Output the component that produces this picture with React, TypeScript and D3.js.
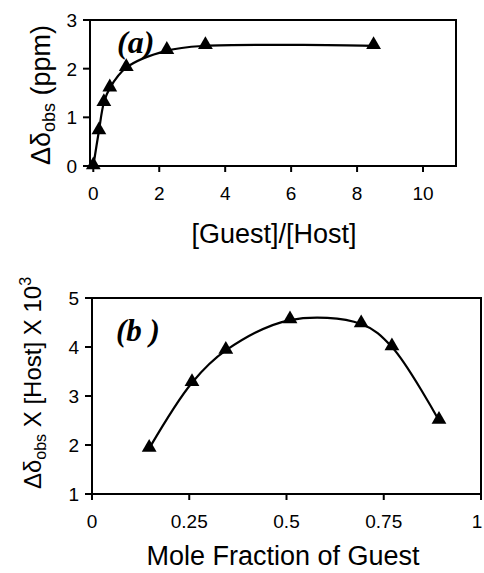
import * as d3 from 'd3';

// (a) titration curve
const ratioA = [0, 0.17, 0.32, 0.5, 1.0, 2.23, 3.4, 8.5];
const shiftA = [0, 0.72, 1.3, 1.6, 2.02, 2.37, 2.47, 2.47];
const xTicksA = [0, 2, 4, 6, 8, 10];
const yTicksA = [0, 1, 2, 3];

// (b) Job plot
const fracB = [0.147, 0.257, 0.344, 0.509, 0.692, 0.771, 0.892];
const jobB = [1.93, 3.27, 3.93, 4.55, 4.47, 4.0, 2.5];
const xTicksB = [0, 0.25, 0.5, 0.75, 1];
const xTickLabelsB = ['0', '0.25', '0.5', '0.75', '1'];
const yTicksB = [1, 2, 3, 4, 5];

const sans = 'Liberation Sans, Arial, sans-serif';
const serif = 'Liberation Serif, Times New Roman, serif';

const tri = d3.symbol(d3.symbolTriangle, 95);

type PanelProps = {
  xs: number[];
  ys: number[];
  x: d3.ScaleLinear<number, number>;
  y: d3.ScaleLinear<number, number>;
  xTicks: number[];
  xLabels: string[];
  yTicks: number[];
};

const Panel = ({ xs, ys, x, y, xTicks, xLabels, yTicks }: PanelProps) => {
  const [x0, x1] = x.range();
  const [y0, y1] = y.range();
  const line = d3
    .line<number>()
    .x((_, i) => x(xs[i]))
    .y((d) => y(d))
    .curve(d3.curveCatmullRom.alpha(0.5));
  return (
    <g>
      <rect x={x0} y={y1} width={x1 - x0} height={y0 - y1} fill="none" stroke="#000" strokeWidth={2} />
      {xTicks.map((t, i) => (
        <g key={'x' + t}>
          <line x1={x(t)} x2={x(t)} y1={y0} y2={y0 + 6} stroke="#000" strokeWidth={2} />
          <text x={Math.min(x(t), 477)} y={y0 + 34} textAnchor="middle" fontSize={19} fontFamily={sans}>
            {xLabels[i]}
          </text>
        </g>
      ))}
      {yTicks.map((t) => (
        <g key={'y' + t}>
          <line x1={x0 - 7} x2={x0} y1={y(t)} y2={y(t)} stroke="#000" strokeWidth={2} />
          <text x={x0 - 13} y={y(t) + 7} textAnchor="end" fontSize={19} fontFamily={sans}>
            {t}
          </text>
        </g>
      ))}
      <path d={line(ys) ?? ''} fill="none" stroke="#000" strokeWidth={2.2} />
      {ys.map((d, i) => (
        <path key={i} d={tri() ?? ''} transform={`translate(${x(xs[i])},${y(d) - 1})`} fill="#000" />
      ))}
    </g>
  );
};

export default function App() {
  const xA = d3.scaleLinear().domain([-0.1, 11]).range([90, 456]);
  const yA = d3.scaleLinear().domain([0, 3]).range([166, 20]);
  const xB = d3.scaleLinear().domain([0, 1]).range([92, 481]);
  const yB = d3.scaleLinear().domain([1, 5]).range([494, 298]);

  return (
    <svg width={484} height={573} style={{ position: 'absolute', left: 0, top: 0, background: '#fff' }}>
      <Panel xs={ratioA} ys={shiftA} x={xA} y={yA} xTicks={xTicksA} xLabels={xTicksA.map(String)} yTicks={yTicksA} />
      <text x={117} y={53} fontSize={32} fontFamily={serif} fontWeight="bold" fontStyle="italic">
        (a)
      </text>
      <text transform="translate(50,95) rotate(-90)" textAnchor="middle" fontSize={27} fontFamily={sans}>
        Δδ<tspan fontSize={18} dy={5}>obs</tspan>
        <tspan dy={-5}> (ppm)</tspan>
      </text>
      <text x={274} y={243} textAnchor="middle" fontSize={27} fontFamily={sans}>
        [Guest]/[Host]
      </text>

      <Panel xs={fracB} ys={jobB} x={xB} y={yB} xTicks={xTicksB} xLabels={xTickLabelsB} yTicks={yTicksB} />
      <text x={116} y={341} fontSize={31} fontFamily={serif} fontWeight="bold" fontStyle="italic">
        (b )
      </text>
      <text transform="translate(41,383) rotate(-90)" textAnchor="middle" fontSize={24} fontFamily={sans}>
        Δδ<tspan fontSize={16} dy={5}>obs</tspan>
        <tspan dy={-5}> X [Host] X 10</tspan>
        <tspan fontSize={16} dy={-10}>3</tspan>
      </text>
      <text x={283} y={565} textAnchor="middle" fontSize={27} fontFamily={sans}>
        Mole Fraction of Guest
      </text>
    </svg>
  );
}
